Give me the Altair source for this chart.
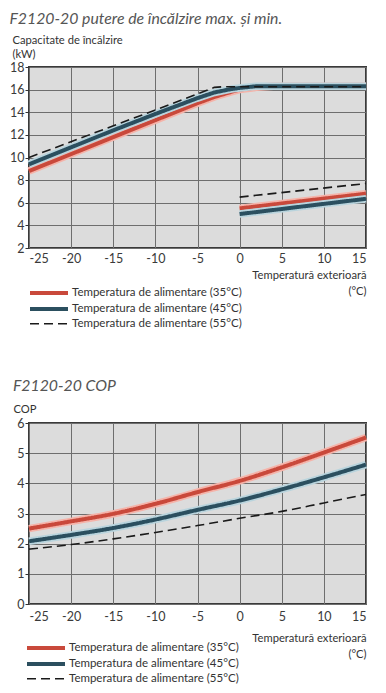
import altair as alt
import pandas as pd

# ---------------- data ----------------
SERIES = [
    "Temperatura de alimentare (35°C)",
    "Temperatura de alimentare (45°C)",
    "Temperatura de alimentare (55°C)",
]
COLORS = ["#c9493b", "#2b4f5f", "#1a1a1a"]
HALOS = ["#f5b3a9", "#b9d4dd"]

x_ticks = [-25, -20, -15, -10, -5, 0, 5, 10, 15]
kw_ticks = [2, 4, 6, 8, 10, 12, 14, 16, 18]
cop_ticks = [0, 1, 2, 3, 4, 5, 6]

# maximum heating power (kW)
max_35_t = [-25, -20, -15, -10, -5, -3, -1, 0, 2, 4, 15]
max_35_kw = [8.8, 10.3, 11.8, 13.3, 14.8, 15.35, 15.8, 16.0, 16.2, 16.3, 16.3]
max_45_t = [-25, -20, -15, -10, -5, -3, -1, 0, 2, 4, 15]
max_45_kw = [9.4, 10.9, 12.4, 13.85, 15.25, 15.75, 16.05, 16.15, 16.3, 16.3, 16.3]
max_55_t = [-25, -10, -3, -2, 15]
max_55_kw = [10.0, 14.2, 16.2, 16.25, 16.25]

# minimum heating power (kW)
min_t = [0, 15]
min_35_kw = [5.5, 6.8]
min_45_kw = [5.0, 6.35]
min_55_kw = [6.5, 7.7]

# COP
cop_t = [-25, -20, -15, -10, -5, 0, 5, 10, 15]
cop_35 = [2.50, 2.74, 2.99, 3.32, 3.71, 4.08, 4.53, 5.02, 5.52]
cop_45 = [2.08, 2.29, 2.52, 2.80, 3.12, 3.43, 3.80, 4.20, 4.62]
cop_55 = [1.82, 1.97, 2.16, 2.37, 2.60, 2.84, 3.07, 3.35, 3.63]


def rows(ts, vs, serie, seg):
    return [{"t": t, "v": v, "serie": serie, "seg": seg} for t, v in zip(ts, vs)]


top_df = pd.DataFrame(
    rows(max_35_t, max_35_kw, SERIES[0], "max")
    + rows(min_t, min_35_kw, SERIES[0], "min")
    + rows(max_45_t, max_45_kw, SERIES[1], "max")
    + rows(min_t, min_45_kw, SERIES[1], "min")
    + rows(max_55_t, max_55_kw, SERIES[2], "max")
    + rows(min_t, min_55_kw, SERIES[2], "min")
)
cop_df = pd.DataFrame(
    rows(cop_t, cop_35, SERIES[0], "cop")
    + rows(cop_t, cop_45, SERIES[1], "cop")
    + rows(cop_t, cop_55, SERIES[2], "cop")
)

FONT = "Lato"
W = 337
H = 181


def build(df, ydomain, yticks, ytitle, ytitle_x, ytitle_y, title,
          legend_x, legend_y, interp, xlabel_pad, xtitle_y, title_offset):
    x = alt.X(
        "t:Q",
        scale=alt.Scale(domain=[-25, 15], nice=False, zero=False),
        axis=alt.Axis(
            values=x_ticks,
            labelExpr="'' + datum.value",
            ticks=False,
            labelPadding=xlabel_pad,
            title=["Temperatură exterioară", "(°C)"],
            titleX=W,
            titleY=xtitle_y,
            titleAlign="right",
            titleBaseline="top",
            titleLineHeight=16,
        ),
    )
    y = alt.Y(
        "v:Q",
        scale=alt.Scale(domain=ydomain, nice=False, zero=False),
        axis=alt.Axis(
            values=yticks,
            ticks=True,
            tickSize=4,
            labelPadding=1,
            title=ytitle,
            titleAngle=0,
            titleAlign="left",
            titleBaseline="top",
            titleX=ytitle_x,
            titleY=ytitle_y,
            titleLineHeight=14,
        ),
    )
    base = alt.Chart(df)
    layers = []
    for i in range(3):
        sub = base.transform_filter(alt.datum.serie == SERIES[i])
        if i < 2:
            layers.append(
                sub.mark_line(interpolate=interp, strokeCap="butt", strokeJoin="round").encode(
                    x=x, y=y, detail="seg:N",
                    color=alt.value(HALOS[i]), strokeWidth=alt.value(7.5),
                )
            )
        layers.append(
            sub.mark_line(interpolate=interp, strokeCap="butt", strokeJoin="round").encode(
                x=x,
                y=y,
                detail="seg:N",
                color=alt.Color(
                    "serie:N",
                    scale=alt.Scale(domain=SERIES, range=COLORS),
                    legend=alt.Legend(
                        title=None,
                        orient="none",
                        legendX=legend_x,
                        legendY=legend_y,
                        symbolType="M-4.75,0H4.75",
                        symbolSize=64,
                        labelOffset=17,
                        rowPadding=0,
                        padding=0,
                        labelLimit=0,
                        labelFont=FONT,
                        labelFontSize=11.5,
                        labelColor="#333",
                        symbolFillColor="transparent",
                    ),
                ),
                strokeDash=alt.StrokeDash(
                    "serie:N",
                    scale=alt.Scale(domain=SERIES, range=[[1, 0], [1, 0], [9, 5]]),
                ),
                strokeWidth=alt.StrokeWidth(
                    "serie:N",
                    scale=alt.Scale(type="ordinal", domain=SERIES, range=[4, 4, 1.6]),
                ),
            )
        )
    return alt.layer(*layers).properties(
        width=W,
        height=H,
        title=alt.Title(
            title,
            anchor="start",
            fontStyle="italic",
            fontWeight="normal",
            fontSize=15.8,
            font=FONT,
            color="#555555",
            offset=title_offset,
        ),
    )


top = build(
    top_df, [2, 18], kw_ticks, ["Capacitate de încălzire", "(kW)"], -17, -33,
    "F2120-20 putere de încălzire max. și min.", 14, 220, "linear", 4, 21, 6,
)
bottom = build(
    cop_df, [0, 6], cop_ticks, "COP", -16, -20,
    "F2120-20 COP", 11, 219, "monotone", 6, 28, 8,
)

chart = (
    alt.concat(top, bottom, columns=1, spacing=46)
    .resolve_legend(color="independent", strokeDash="independent", strokeWidth="independent")
    .properties(padding={"top": 2, "left": 0, "right": 0, "bottom": 0})
    .configure_view(fill="#dcdcdc", stroke="#3a3a3a", strokeWidth=2)
    .configure_axis(
        grid=True,
        gridColor="#6e6e6e",
        gridWidth=1,
        domain=False,
        tickColor="#333",
        labelFont=FONT,
        labelFontSize=12.5,
        labelColor="#3a3a3a",
        titleFont=FONT,
        titleFontSize=11.2,
        titleFontWeight="normal",
        titleColor="#333",
    )
)

chart.save("out.html", embed_options={"renderer": "svg", "actions": False})
